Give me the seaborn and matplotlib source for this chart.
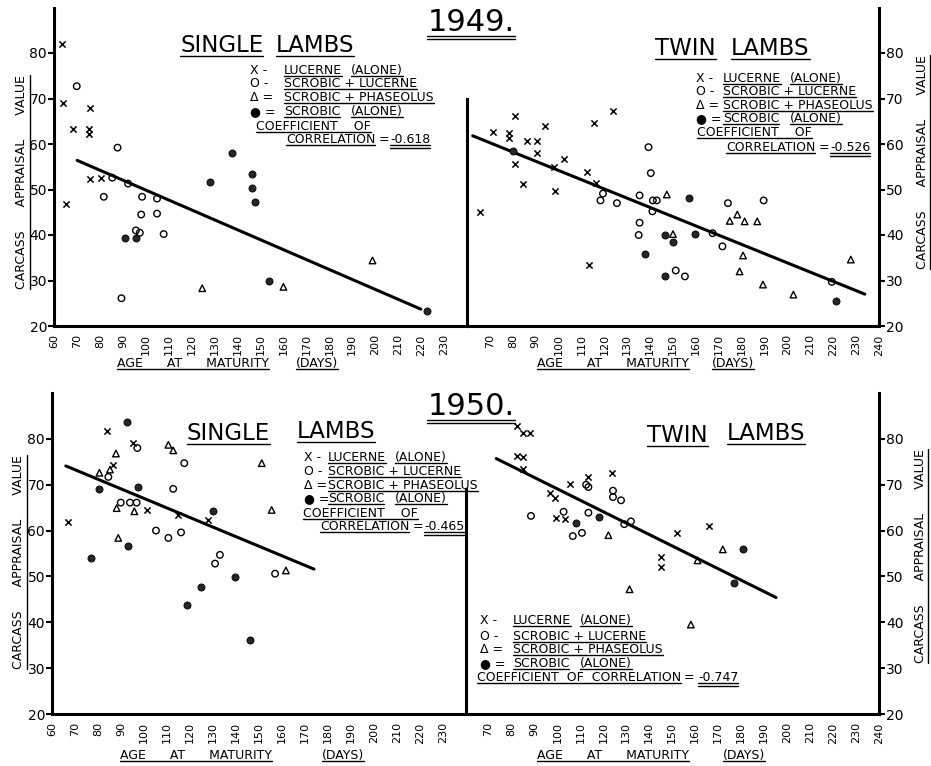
import matplotlib

matplotlib.use("Agg")

import matplotlib.pyplot as plt
import pandas as pd
import seaborn as sns
from matplotlib.lines import Line2D

W, H = 931, 766

# 1949 single lambs  (L = lucerne alone, SL = scrobic + lucerne, SP = scrobic + phaseolus, S = scrobic alone)
S49_DAYS = [63.6, 64, 65.2, 68.1, 75.7, 75.2, 75.2, 75.7, 80.7,
            69.9, 85.4, 81.7, 87.7, 89.4, 92.3, 98.4, 98, 104.9, 104.9, 107.8, 95.7, 97.4,
            90.9, 95.7, 127.8, 137.7, 146.2, 146.2, 147.4, 153.9, 222.5,
            124.6, 160, 198.8]
S49_VALUES = [81.9, 69.1, 46.9, 63.4, 68.0, 63.2, 62.1, 52.4, 52.6,
              72.7, 52.6, 48.4, 59.2, 26.1, 51.3, 48.4, 44.5, 48.0, 44.7, 40.2, 41.0, 40.5,
              39.4, 39.4, 51.6, 58.1, 53.3, 50.4, 47.3, 30.0, 23.4,
              28.3, 28.6, 34.4]
S49_FEED = ["L"] * 9 + ["SL"] * 13 + ["S"] * 9 + ["SP"] * 3
S49_FIT_DAYS = [70.1, 219.9]
S49_FIT_VALUES = [56.4, 23.7]

# 1949 twin lambs
T49_DAYS = [65.7, 71.4, 78.4, 78.4, 81, 81, 84.5, 86.4, 90.4, 90.4, 94, 98.4, 98, 102.3, 112.5, 113.5, 115.7, 116.5, 123.8,
            119.4, 118.3, 125.5, 139.3, 140.3, 135.4, 141.2, 142.9, 141, 135.4, 135, 151.2, 155.2, 174, 189.6, 167.3, 171.6, 219.4,
            80.3, 157.1, 146.5, 149.9, 137.8, 159.6, 146.5, 221.2,
            147.3, 150, 174.8, 178.1, 181.3, 186.8, 180.6, 179.1, 189.3, 202.6, 227.7]
T49_VALUES = [45.1, 62.7, 62.5, 61.4, 66.1, 55.6, 51.2, 60.7, 60.7, 58.1, 63.9, 49.6, 54.9, 56.8, 53.8, 33.5, 64.7, 51.5, 67.2,
              49.1, 47.6, 47.0, 59.3, 53.6, 48.7, 47.6, 47.6, 45.2, 42.7, 40.0, 32.2, 30.9, 47.0, 47.6, 40.4, 37.5, 29.7,
              58.5, 48.1, 40.1, 38.5, 35.8, 40.2, 30.9, 25.6,
              48.9, 40.2, 43.1, 44.5, 43.0, 43.0, 35.5, 32.0, 29.1, 26.9, 34.6]
T49_FEED = ["L"] * 19 + ["SL"] * 18 + ["S"] * 8 + ["SP"] * 11
T49_FIT_DAYS = [62.5, 233.8]
T49_FIT_VALUES = [61.8, 27.0]

# 1950 single lambs
S50_DAYS = [67.1, 83.8, 86.7, 95.1, 101.2, 114.7, 128,
            84.5, 97.1, 89.9, 93.9, 96.8, 105.2, 110.6, 112.7, 117.5, 116.1, 130.9, 133, 157,
            76.8, 80.6, 92.5, 97.5, 92.9, 118.6, 129.9, 124.8, 139.6, 146.1,
            80.6, 85.2, 87.8, 88.1, 95.8, 88.8, 110.6, 112.7, 151.2, 155.5, 161.7]
S50_VALUES = [61.8, 81.8, 74.4, 79.0, 64.5, 63.4, 62.4,
              71.7, 78.0, 66.1, 66.1, 66.1, 60.0, 58.4, 69.1, 74.7, 59.6, 52.8, 54.7, 50.6,
              54.1, 69.1, 83.6, 69.6, 56.7, 43.8, 64.2, 47.7, 49.8, 36.2,
              72.6, 73.3, 76.8, 64.9, 64.2, 58.4, 78.7, 77.5, 74.7, 64.5, 51.3]
S50_FEED = ["L"] * 7 + ["SL"] * 13 + ["S"] * 10 + ["SP"] * 11
S50_FIT_DAYS = [66, 173.9]
S50_FIT_VALUES = [74.1, 51.6]

# 1950 twin lambs
T50_DAYS = [82.4, 85.2, 88.2, 82.4, 85.2, 85.2, 96.6, 99.0, 105.6, 99.3, 103.3, 113.5, 123.7, 145.2, 145.2, 152, 166.2,
            88.5, 102.7, 106.7, 110.7, 112.5, 113.5, 113.5, 124.2, 124.2, 127.7, 129.1, 132,
            108.2, 118.3, 181, 176.7,
            122.2, 131.4, 161, 158.1, 172]
T50_VALUES = [82.9, 81.3, 81.3, 76.2, 76.1, 73.4, 68.2, 67.2, 70.2, 62.7, 62.5, 71.7, 72.6, 54.3, 52.0, 59.5, 61.0,
              63.2, 64.1, 58.8, 59.5, 70.0, 69.5, 63.9, 68.7, 67.3, 66.6, 61.4, 62.0,
              61.6, 63.0, 56.0, 48.6,
              59.0, 47.2, 53.5, 39.5, 55.9]
T50_FEED = ["L"] * 17 + ["SL"] * 12 + ["S"] * 4 + ["SP"] * 5
T50_FIT_DAYS = [73.4, 195.2]
T50_FIT_VALUES = [75.7, 45.4]

MARKER_STYLE = {
    "L": dict(marker="x", color="black", s=20, linewidth=1.1),
    "SL": dict(marker="o", fc="none", ec="black", s=22, linewidth=1.0),
    "SP": dict(marker="^", fc="none", ec="black", s=22, linewidth=1.0),
    "S": dict(marker="o", fc="#262626", ec="black", s=26, linewidth=0.6),
}

sns.set_style("white")
plt.rcParams["font.family"] = ["DejaVu Sans"]

fig = plt.figure(figsize=(W / 100, H / 100), dpi=100)
UNDER = []


def put(x, y, s, size, under=0, rot=0, ha="left", va="baseline"):
    t = fig.text(x / W, 1 - y / H, s, fontsize=size, rotation=rot, ha=ha, va=va, color="black")
    if under:
        UNDER.append((t, under))
    return t


def panel(rect, days, values, feed, fit_days, fit_values, side, divider_top):
    x0, y0, x1, y1 = rect
    ax = fig.add_axes([x0 / W, 1 - y1 / H, (x1 - x0) / W, (y1 - y0) / H])
    df = pd.DataFrame({"day": days, "value": values, "feed": feed})
    for code in ["L", "SL", "SP", "S"]:
        sub = df[df["feed"] == code]
        sns.scatterplot(data=sub, x="day", y="value", ax=ax, clip_on=False, zorder=3, **MARKER_STYLE[code])
    sns.lineplot(x=fit_days, y=fit_values, ax=ax, color="black", linewidth=2.2, sort=False)
    ax.set_xlim(60, 240)
    ax.set_ylim(20, 90)
    ax.patch.set_alpha(0)
    for sp in ax.spines.values():
        sp.set_linewidth(2.2)
        sp.set_color("black")
    ax.spines["top"].set_visible(False)
    if side == "left":
        ax.spines["right"].set_bounds(20, divider_top)
        ax.yaxis.tick_left()
        xt = list(range(60, 240, 10))
    else:
        ax.spines["left"].set_visible(False)
        ax.yaxis.tick_right()
        xt = list(range(70, 250, 10))
    ax.set_xticks(xt)
    ax.set_xticklabels([str(v) for v in xt], rotation=90)
    ax.set_yticks(list(range(20, 90, 10)))
    ax.tick_params(direction="out", length=4, width=1.5, colors="black")
    ax.tick_params(axis="y", labelsize=10, pad=1)
    ax.tick_params(axis="x", labelsize=8, pad=2)
    ax.set_xlabel("")
    ax.set_ylabel("")
    return ax


def key(x_sym, x_lab, rows, coef_rows):
    syms = ["X -", "O -", "\u0394 =", "\u25CF ="]
    labels = [["LUCERNE", "(ALONE)"], ["SCROBIC + LUCERNE"], ["SCROBIC + PHASEOLUS"], ["SCROBIC", "(ALONE)"]]
    gaps = [0, 67]
    for sym, words, y in zip(syms, labels, rows):
        put(x_sym, y, sym, 9)
        for w, g in zip(words, gaps):
            put(x_lab + g, y, w, 9, under=1)
    for (x, y, s, n) in coef_rows:
        put(x, y, s, 9, under=n)


panel((54, 7.5, 467, 326), S49_DAYS, S49_VALUES, S49_FEED, S49_FIT_DAYS, S49_FIT_VALUES, "left", 70)
panel((467, 7.5, 879, 326), T49_DAYS, T49_VALUES, T49_FEED, T49_FIT_DAYS, T49_FIT_VALUES, "right", 90)
panel((52, 393, 466, 714), S50_DAYS, S50_VALUES, S50_FEED, S50_FIT_DAYS, S50_FIT_VALUES, "left", 69)
panel((465.5, 393, 879, 714), T50_DAYS, T50_VALUES, T50_FEED, T50_FIT_DAYS, T50_FIT_VALUES, "right", 90)

# years and titles
put(471, 31, "1949.", 22, under=2, ha="center")
put(471, 415, "1950.", 22, under=2, ha="center")
put(180, 52, "SINGLE", 16.5, under=1)
put(276, 52, "LAMBS", 16.5, under=1)
put(655, 55, "TWIN", 16.5, under=1)
put(731, 55, "LAMBS", 16.5, under=1)
put(187, 440, "SINGLE", 16.5, under=1)
put(297, 438, "LAMBS", 16.5, under=1)
put(647, 442, "TWIN", 16.5, under=1)
put(727, 440, "LAMBS", 16.5, under=1)

# keys
key(250, 284, [74, 87, 101, 115],
    [(256, 130, "COEFFICIENT    OF", 1), (286, 143, "CORRELATION", 1), (379, 143, "=", 0), (390, 143, "-0.618", 2)])
key(696, 723, [82, 95, 109, 122],
    [(697, 136, "COEFFICIENT    OF", 1), (726, 151, "CORRELATION", 1), (819, 151, "=", 0), (830, 151, "-0.526", 2)])
key(304, 328, [461, 475, 489, 502],
    [(303, 517, "COEFFICIENT    OF", 1), (320, 530, "CORRELATION", 1), (413, 530, "=", 0), (424, 530, "-0.465", 2)])
key(480, 513, [624, 640, 653, 667],
    [(477, 681, "COEFFICIENT  OF  CORRELATION", 1), (684, 681, "=", 0), (698, 681, "-0.747", 2)])

# axis labels
ylab = "CARCASS      APPRAISAL      VALUE"
put(22, 182, ylab, 9, under=1, rot=90, ha="center", va="center")
put(922, 162, ylab, 9, under=1, rot=90, ha="center", va="center")
put(19, 562, ylab, 9, under=1, rot=90, ha="center", va="center")
put(921, 556, ylab, 9, under=1, rot=90, ha="center", va="center")
for x_age, x_days, y in [(117, 296, 367), (537, 712, 367), (120, 322, 759), (537, 723, 759)]:
    put(x_age, y, "AGE      AT      MATURITY", 9, under=1)
    put(x_days, y, "(DAYS)", 9, under=1)

fig.canvas.draw()
renderer = fig.canvas.get_renderer()
inv = fig.transFigure.inverted()
for t, n in UNDER:
    bb = t.get_window_extent(renderer)
    for k in range(n):
        if t.get_rotation() == 90:
            xx = bb.x1 + 1 + 3 * k
            pts = inv.transform([(xx, bb.y0), (xx, bb.y1)])
        else:
            yy = bb.y0 + 1 - 3 * k
            pts = inv.transform([(bb.x0, yy), (bb.x1, yy)])
        fig.add_artist(Line2D(pts[:, 0], pts[:, 1], transform=fig.transFigure, color="black", linewidth=1.0))

fig.savefig("out.png", dpi=100)
